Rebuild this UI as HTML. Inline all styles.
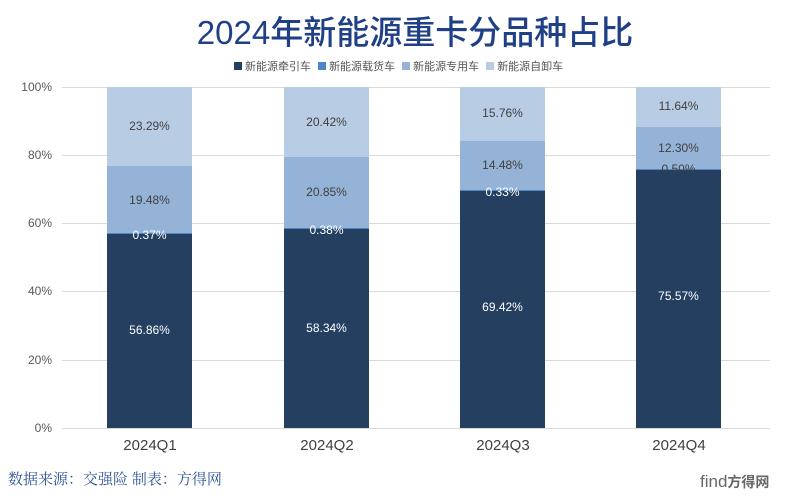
<!DOCTYPE html>
<html><head><meta charset="utf-8"><style>
body{margin:0;width:800px;height:498px;background:#fff;position:relative;overflow:hidden;font-family:"Liberation Sans","Noto Sans CJK SC",sans-serif}
.a{position:absolute}
.title{left:0;width:830px;top:6px;text-align:center;font-size:33px;color:#1f3f86;font-weight:500;font-family:"Liberation Sans Narrow","Liberation Sans","Noto Sans CJK SC",sans-serif}
.leg{top:58px;left:230px;font-size:11px;color:#555;white-space:nowrap}
.leg span{display:inline-block;width:8px;height:8px;margin:0 3px 0 4px}
.grid{left:62px;width:708px;height:1px;background:#d9d9d9}
.yl{left:10px;width:42px;text-align:right;font-size:12px;color:#595959}
.bar{width:85px;top:87px;height:341px;display:flex;flex-direction:column-reverse}
.bar div{position:relative;flex:none}
.lab{position:absolute;left:0;width:85px;text-align:center;font-size:12px;color:#404040;z-index:5}
.xl{top:437px;width:140px;text-align:center;font-size:15px;color:#404040}
</style></head><body>
<div class="a title">2024年新能源重卡分品种占比</div>
<div class="a leg"><span style="background:#243f60"></span>新能源牵引车 <span style="background:#4f86c6"></span>新能源载货车 <span style="background:#95b3d7"></span>新能源专用车 <span style="background:#b8cce4"></span>新能源自卸车</div>
<div class="a grid" style="top:87px"></div><div class="a grid" style="top:155px"></div><div class="a grid" style="top:223px"></div><div class="a grid" style="top:291px"></div><div class="a grid" style="top:360px"></div><div class="a grid" style="top:428px"></div>
<div class="a yl" style="top:80px">100%</div><div class="a yl" style="top:148px">80%</div><div class="a yl" style="top:216px">60%</div><div class="a yl" style="top:284px">40%</div><div class="a yl" style="top:353px">20%</div><div class="a yl" style="top:421px">0%</div>

<div class="a bar" style="left:107px">
<div style="height:56.86%;background:#243f60"><div class="lab" style="top:46%;color:#fff">56.86%</div></div>
<div style="height:0.37%;background:#4f86c6"><div class="lab" style="top:-5px;color:#fff">0.37%</div></div>
<div style="height:19.48%;background:#95b3d7"><div class="lab" style="top:40%">19.48%</div></div>
<div style="height:23.29%;background:#b8cce4"><div class="lab" style="top:40%">23.29%</div></div>
</div>
<div class="a bar" style="left:284px">
<div style="height:58.34%;background:#243f60"><div class="lab" style="top:46%;color:#fff">58.34%</div></div>
<div style="height:0.38%;background:#4f86c6"><div class="lab" style="top:-5px;color:#fff">0.38%</div></div>
<div style="height:20.85%;background:#95b3d7"><div class="lab" style="top:40%">20.85%</div></div>
<div style="height:20.43%;background:#b8cce4"><div class="lab" style="top:40%">20.42%</div></div>
</div>
<div class="a bar" style="left:460px">
<div style="height:69.42%;background:#243f60"><div class="lab" style="top:46%;color:#fff">69.42%</div></div>
<div style="height:0.34%;background:#4f86c6"><div class="lab" style="top:-5px;color:#fff">0.33%</div></div>
<div style="height:14.48%;background:#95b3d7"><div class="lab" style="top:35%">14.48%</div></div>
<div style="height:15.76%;background:#b8cce4"><div class="lab" style="top:35%">15.76%</div></div>
</div>
<div class="a bar" style="left:636px">
<div style="height:75.57%;background:#243f60"><div class="lab" style="top:46%;color:#fff">75.57%</div></div>
<div style="height:0.5%;background:#4f86c6"><div class="lab" style="top:-7px">0.50%</div></div>
<div style="height:12.3%;background:#95b3d7"><div class="lab" style="top:33%">12.30%</div></div>
<div style="height:11.63%;background:#b8cce4"><div class="lab" style="top:30%">11.64%</div></div>
</div>

<div class="a xl" style="left:80px">2024Q1</div>
<div class="a xl" style="left:257px">2024Q2</div>
<div class="a xl" style="left:433px">2024Q3</div>
<div class="a xl" style="left:609px">2024Q4</div>
<div class="a" style="left:8px;top:468px;font-size:15px;color:#2f5597;font-family:'Noto Serif CJK SC',serif">数据来源：交强险 制表：方得网</div>
<div class="a" style="left:700px;top:472px;font-size:17px;color:#666">find<span style="font-size:14px;font-weight:bold">方得网</span></div>
</body></html>
